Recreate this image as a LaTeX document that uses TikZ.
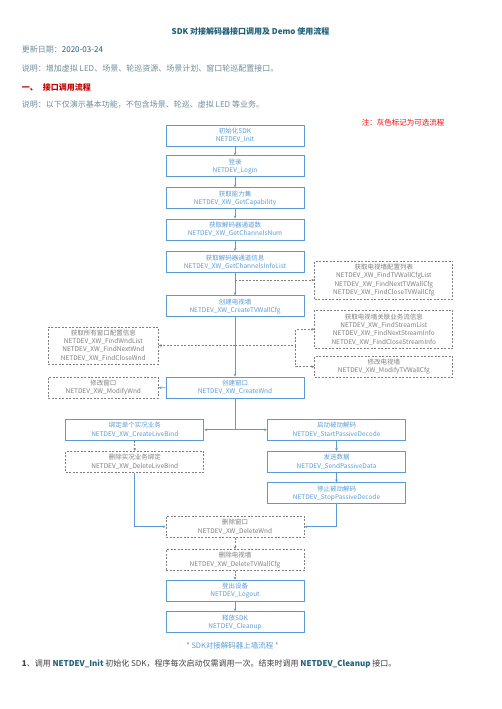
\documentclass[tikz,border=0pt]{standalone}
\usepackage{fontspec}
\setmainfont{Noto Sans CJK SC}
\usepackage{tikz}
\usetikzlibrary{arrows.meta}
\definecolor{boxblue}{HTML}{5B9BD5}
\definecolor{optgray}{HTML}{7F7F7F}
\definecolor{titleteal}{HTML}{1F5F7A}
\definecolor{notegray}{HTML}{6E8C99}
\definecolor{headred}{HTML}{C00000}

\begin{document}
\begin{tikzpicture}[x=1pt, y=-1pt, >={Stealth[length=3pt, width=2.6pt]}]
    \tikzstyle{mainbox} = [rectangle, draw=boxblue, line width=0.8pt, text=boxblue, minimum width=138pt, minimum height=21pt, inner sep=0pt, align=center, font=\fontsize{6.5}{8.3}\selectfont]
    \tikzstyle{optbox} = [mainbox, draw=optgray, text=optgray, dash pattern=on 2pt off 1.5pt]
    \tikzstyle{line} = [boxblue, line width=0.8pt]
    \tikzstyle{optline} = [optgray, line width=0.8pt, dash pattern=on 2pt off 1.5pt]
    \tikzstyle{para} = [anchor=west, inner sep=0pt, text=notegray, font=\fontsize{8}{10}\selectfont]
    \useasboundingbox (0,0) rectangle (501,709);

    \node[text=titleteal, font=\fontsize{8}{10}\selectfont\bfseries] (title) at (250.5,31) {SDK 对接解码器接口调用及 Demo 使用流程};
    \node[para] (date) at (21.7,49.3) {更新日期：\textcolor{titleteal}{2020-03-24}};
    \node[para] (desc) at (21.7,68.3) {说明：增加虚拟 LED、场景、轮巡资源、场景计划、窗口轮巡配置接口。};
    \node[para, text=headred, font=\fontsize{8}{10}\selectfont\bfseries] (sect) at (21.7,87.3) {一、\hspace{5pt}接口调用流程};
    \node[para] (scope) at (21.7,105) {说明：以下仅演示基本功能，不包含场景、轮巡、虚拟 LED 等业务。};
    \node[para, text=red, font=\fontsize{7.5}{9}\selectfont] (note) at (361.7,122.3) {注：灰色标记为可选流程};

    \node[mainbox] (init) at (235,135.5) {初始化SDK\\NETDEV\_Init};
    \node[mainbox] (login) at (235,166.3) {登录\\NETDEV\_Login};
    \node[mainbox] (cap) at (235,198.3) {获取能力集\\NETDEV\_XW\_GetCapability};
    \node[mainbox] (chnum) at (235,229.5) {获取解码器通道数\\NETDEV\_XW\_GetChannelsNum};
    \node[mainbox] (chinfo) at (235,262) {获取解码器通道信息\\NETDEV\_XW\_GetChannelsInfoList};
    \node[mainbox] (wall) at (235,306.3) {创建电视墙\\NETDEV\_XW\_CreateTVWallCfg};
    \node[mainbox] (wnd) at (235,387.5) {创建窗口\\NETDEV\_XW\_CreateWnd};
    \node[optbox] (delwnd) at (235,526.7) {删除窗口\\NETDEV\_XW\_DeleteWnd};
    \node[optbox] (delwall) at (235,560) {删除电视墙\\NETDEV\_XW\_DeleteTVWallCfg};
    \node[mainbox] (logout) at (235,590.5) {登出设备\\NETDEV\_Logout};
    \node[mainbox] (cleanup) at (235,622.2) {释放SDK\\NETDEV\_Cleanup};

    \node[optbox, minimum height=38.3pt] (wallcfg) at (383.8,280.2) {获取电视墙配置列表\\NETDEV\_XW\_FindTVWallCfgList\\NETDEV\_XW\_FindNextTVWallCfg\\NETDEV\_XW\_FindCloseTVWallCfg};
    \node[optbox, minimum height=38.7pt] (stream) at (383.8,329.3) {获取电视墙关联业务流信息\\NETDEV\_XW\_FindStreamList\\NETDEV\_XW\_FindNextStreamInfo\\NETDEV\_XW\_FindCloseStreamInfo};
    \node[optbox] (modwall) at (383.8,366.7) {修改电视墙\\NETDEV\_XW\_ModifyTVWallCfg};
    \node[optbox, minimum width=110pt, minimum height=37pt] (wndlist) at (103.3,345.5) {获取所有窗口配置信息\\NETDEV\_XW\_FindWndList\\NETDEV\_XW\_FindNextWnd\\NETDEV\_XW\_FindCloseWnd};
    \node[optbox, minimum width=110pt] (modwnd) at (103.3,387.8) {修改窗口\\NETDEV\_XW\_ModifyWnd};

    \node[mainbox] (live) at (134.8,429.8) {绑定单个实况业务\\NETDEV\_XW\_CreateLiveBind};
    \node[optbox] (dellive) at (134.8,461.8) {删除实况业务绑定\\NETDEV\_XW\_DeleteLiveBind};
    \node[mainbox] (startpd) at (336.5,429.8) {启动被动解码\\NETDEV\_StartPassiveDecode};
    \node[mainbox] (senddata) at (336.5,461.8) {发送数据\\NETDEV\_SendPassiveData};
    \node[mainbox] (stoppd) at (336.5,493.2) {停止被动解码\\NETDEV\_StopPassiveDecode};

    \foreach \a/\b in {init/login, login/cap, cap/chnum, chnum/chinfo, chinfo/wall, wall/wnd, startpd/senddata, senddata/stoppd, logout/cleanup} {
        \draw[line, ->] (\a) -- (\b);
    }
    \draw[optline, ->] (chinfo.south |- wallcfg.west) -- (wallcfg.west);
    \coordinate (split) at (295.7,345.5);
    \draw[optline, ->] (wall.south |- wndlist.east) -- (wndlist.east);
    \draw[optline] (wall.south |- split) -- (split);
    \draw[optline, ->] (split) |- (stream.west);
    \draw[optline, ->] (split) |- (modwall.west);
    \draw[line, ->] (wnd) -- (modwnd);
    \coordinate (fork) at (wnd.south |- live.east);
    \draw[line, ->] (wnd.south) -- (fork) -- (live.east);
    \draw[line, ->] (fork) -- (startpd.west);
    \draw[optline, ->] (live) -- (dellive);
    \draw[line, ->] (dellive.south) |- (delwnd.west);
    \draw[line, ->] (stoppd.south) |- (delwnd.east);
    \draw[optline, ->] (delwnd) -- (delwall);
    \draw[optline, ->] (delwall) -- (logout);

    \node[text=boxblue, font=\fontsize{7.5}{9}\selectfont] (caption) at (232.5,645.7) {* SDK对接解码器上墙流程 *};
    \node[para, text=black!75] (step1) at (21.7,664.3) {\textbf{1}、调用 \textcolor{titleteal}{\bfseries NETDEV\_Init} 初始化 SDK，程序每次启动仅需调用一次。结束时调用 \textcolor{titleteal}{\bfseries NETDEV\_Cleanup} 接口。};
\end{tikzpicture}
\end{document}
